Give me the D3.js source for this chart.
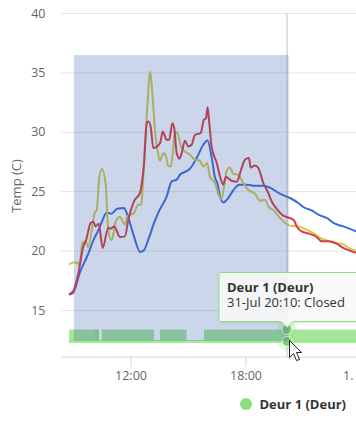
<!DOCTYPE html>
<html>
<head>
<meta charset="utf-8">
<script src="https://cdn.jsdelivr.net/npm/d3@7"></script>
<style>
html, body { margin: 0; padding: 0; background: #fff; overflow: hidden; }
svg { display: block; font-family: "Open Sans", sans-serif; }
</style>
</head>
<body>
<svg id="chart" width="356" height="427"></svg>
<script>
// [hour of day, temp]
const redSeries = [[8.79,16.37],[9.02,16.66],[9.28,18.11],[9.54,20.38],[9.68,20.91],[9.92,22.37],[10.06,22.48],[10.18,22.08],[10.34,22.31],[10.55,20.27],[10.84,21.97],[10.97,21.89],[11.15,22.08],[11.45,21.19],[11.71,21.24],[11.89,22.69],[12.18,24.19],[12.5,24.92],[12.58,25.59],[12.7,27.27],[12.85,30.77],[12.93,30.91],[13.05,30.49],[13.19,28.67],[13.54,29.09],[13.68,30.07],[13.89,29.37],[14.02,29.37],[14.18,30.77],[14.28,30.35],[14.41,28.25],[14.55,27.77],[14.67,28.25],[14.84,29.29],[15.02,28.81],[15.19,28.95],[15.36,29.79],[15.66,29.93],[15.83,31.05],[15.94,31.19],[16.02,32.1],[16.11,30.8],[16.23,28.81],[16.5,27.41],[16.67,26.29],[16.84,25.59],[16.98,26.24],[17.28,25.92],[17.54,25.84],[17.8,26.99],[17.97,27.69],[18.18,27.83],[18.27,27.04],[18.49,27.21],[18.67,26.99],[18.93,25.73],[19.19,24.89],[19.37,24.18],[19.66,23.49],[19.97,22.98],[20.15,22.87],[20.53,22.59],[20.67,22.08],[20.93,21.66],[21.36,21.45],[21.71,21.19],[21.97,20.82],[22.32,20.82],[22.76,20.63],[23.1,20.27],[23.45,20.04],[23.76,19.85]];
const oliveSeries = [[8.79,18.87],[9.02,19.03],[9.23,19.03],[9.33,18.81],[9.49,20.69],[9.66,20.82],[9.78,20.35],[10.01,22.08],[10.13,23.21],[10.24,23.49],[10.36,26.01],[10.5,26.91],[10.71,25.59],[10.79,22.92],[10.88,21.39],[11.02,20.91],[11.23,22.5],[11.45,22.87],[11.71,22.23],[11.83,22.92],[12.18,23.21],[12.39,23.91],[12.56,23.91],[12.62,24.92],[12.7,27.17],[12.88,32.31],[13.02,35.11],[13.16,32.87],[13.28,30.07],[13.45,28.11],[13.54,27.61],[13.71,28.25],[13.85,27.97],[13.97,27.18],[14.1,27.13],[14.2,28.11],[14.32,30.07],[14.44,29.93],[14.67,28.67],[14.84,28.39],[15.1,28.11],[15.36,27.69],[15.59,27.63],[15.83,27.13],[16,27.41],[16.15,26.22],[16.41,25.73],[16.63,24.61],[16.76,24.41],[16.88,25.45],[17.02,26.79],[17.19,27.04],[17.36,26.51],[17.62,26.43],[17.88,25.73],[18.14,25.17],[18.49,24.83],[18.76,24.24],[19.02,24.33],[19.19,23.76],[19.49,23.4],[19.8,22.79],[20.32,22.14],[20.75,22.08],[21.19,21.81],[21.53,21.53],[21.89,21.11],[22.23,20.91],[22.58,20.69],[23.02,20.63],[23.45,20.21],[23.76,20.04]];
const blueSeries = [[8.79,16.34],[8.98,16.43],[9.37,18.25],[9.8,19.79],[10.06,20.91],[10.32,21.75],[10.5,22.45],[10.76,23.24],[11,23.15],[11.31,23.57],[11.66,23.63],[11.8,23.21],[12.18,21.24],[12.5,19.93],[12.7,20.07],[12.96,21.11],[13.23,22.37],[13.45,23.24],[13.89,24.61],[14.15,25.87],[14.41,26.01],[14.58,26.43],[14.84,26.66],[15.1,26.93],[15.45,27.83],[15.8,28.95],[16.02,29.31],[16.24,27.83],[16.41,26.18],[16.53,25.73],[16.67,24.61],[16.84,24.1],[17.1,24.47],[17.36,25.11],[17.67,25.59],[18.06,25.59],[18.49,25.5],[18.93,25.5],[19.28,25.34],[19.8,24.83],[20.32,24.47],[20.75,24.05],[21.01,23.71],[21.45,23.43],[21.8,23.07],[22.23,22.79],[22.66,22.31],[23.1,22.08],[23.76,21.66]];

// door open intervals, start and end hour
const doorOpen = [[8.79,9.66],[9.63,10.36],[10.15,10.36],[10.5,13.23],[13.54,14.92],[15.83,24]];
const doorRange = [8.79, 24];
const doorClosedTemp = 12.4;
const doorOpenTemp = 13.4;
const selection = [9.05, 20.25, 36.5];
const hoverHour = 20.167;

const yTicks = [15, 20, 25, 30, 35, 40];
const xTicks = [12, 18, 24];
const xTickLabels = ["12:00", "18:00", "1. Aug"];
const seriesName = "Deur 1 (Deur)";
const tooltipLine = "31-Jul 20:10: Closed";

const x = d3.scaleLinear().domain([12, 18]).range([130.5, 245.5]);
const y = d3.scaleLinear().domain([40, 15]).range([13.5, 310.5]);
const plotLeft = 61, plotRight = 356, plotBottom = 357;

const svg = d3.select("#chart");

// grid
svg.append("g").selectAll("line").data(yTicks).join("line")
    .attr("x1", plotLeft).attr("x2", plotRight)
    .attr("y1", d => y(d)).attr("y2", d => y(d))
    .attr("stroke", "#e6e6e6");

// y labels
svg.append("g").selectAll("text").data(yTicks).join("text")
    .attr("x", 45.5).attr("y", d => y(d) + 4)
    .attr("text-anchor", "end")
    .attr("font-size", 12.5).attr("fill", "#666")
    .text(d => d);

svg.append("text")
    .attr("transform", "translate(21,186) rotate(-90)")
    .attr("text-anchor", "middle")
    .attr("font-size", 13).attr("fill", "#666")
    .text("Temp (C)");

// x axis
const xAxis = d3.axisBottom(x)
    .tickValues(xTicks)
    .tickSize(10)
    .tickPadding(4)
    .tickFormat((d, i) => xTickLabels[i]);
const axisG = svg.append("g").attr("transform", "translate(0," + plotBottom + ")").call(xAxis);
axisG.select(".domain").remove();
axisG.selectAll("text").attr("font-size", 12.5).attr("fill", "#666").attr("font-family", '"Open Sans", sans-serif');
axisG.selectAll("line").attr("stroke", "#ccd6eb");
axisG.append("line").attr("x1", plotLeft).attr("x2", plotRight).attr("stroke", "#ccd6eb");

// crosshair
svg.append("line")
    .attr("x1", x(hoverHour)).attr("x2", x(hoverHour))
    .attr("y1", y(40)).attr("y2", plotBottom)
    .attr("stroke", "#c4c4c4");

// door state
const doorG = svg.append("g");
doorG.selectAll("rect").data(doorOpen).join("rect")
    .attr("x", d => x(d[0]))
    .attr("width", d => x(d[1]) - x(d[0]))
    .attr("y", y(doorOpenTemp))
    .attr("height", y(doorClosedTemp) - y(doorOpenTemp))
    .attr("rx", 1)
    .attr("fill", "#90e080").attr("fill-opacity", 0.8);
doorG.append("line")
    .attr("x1", x(doorRange[0])).attr("x2", x(doorRange[1]))
    .attr("y1", y(doorClosedTemp)).attr("y2", y(doorClosedTemp))
    .attr("stroke", "#90e880").attr("stroke-opacity", 0.8).attr("stroke-width", 3);

// temp lines
const line = d3.line().x(d => x(d[0])).y(d => y(d[1])).curve(d3.curveMonotoneX);
const lines = [[blueSeries, "#3e6bdc"], [oliveSeries, "#d4c94a"], [redSeries, "#dc3a42"]];
svg.append("g").selectAll("path").data(lines).join("path")
    .attr("d", d => line(d[0]))
    .attr("fill", "none")
    .attr("stroke", d => d[1])
    .attr("stroke-width", 2)
    .attr("stroke-linejoin", "round");

// hover markers
const hoverTemps = [13.4, 12.4];
svg.append("g").selectAll("circle").data(hoverTemps).join("circle")
    .attr("cx", x(hoverHour)).attr("cy", d => y(d)).attr("r", 9.5)
    .attr("fill", "#90ed7d").attr("fill-opacity", 0.25);
svg.append("g").selectAll("circle").data(hoverTemps).join("circle")
    .attr("cx", x(hoverHour)).attr("cy", d => y(d)).attr("r", 5)
    .attr("fill", "#80d070").attr("stroke", "#fff");

// zoom selection on top of everything in the plot
svg.append("rect")
    .attr("x", x(selection[0]))
    .attr("width", x(selection[1]) - x(selection[0]))
    .attr("y", y(selection[2]))
    .attr("height", 341 - y(selection[2]))
    .attr("fill", "rgba(51,92,173,0.25)");

// tooltip
const defs = svg.append("defs");
const shadow = defs.append("filter").attr("id", "tipShadow").attr("x", "-10%").attr("y", "-20%").attr("width", "120%").attr("height", "150%");
shadow.append("feDropShadow").attr("dx", 1).attr("dy", 1).attr("stdDeviation", 1.5).attr("flood-color", "#000").attr("flood-opacity", 0.12);

const tipX = 219, tipY = 272.5, tipH = 49, tipArrow = x(hoverHour);
svg.append("path")
    .attr("d", "M" + (tipX + 2) + "," + tipY + "H362V" + (tipY + tipH) + "H" + (tipArrow + 6) + "L" + tipArrow + "," + (tipY + tipH + 6) + "L" + (tipArrow - 6) + "," + (tipY + tipH) + "H" + (tipX + 2) + "Q" + tipX + "," + (tipY + tipH) + " " + tipX + "," + (tipY + tipH - 2) + "V" + (tipY + 2) + "Q" + tipX + "," + tipY + " " + (tipX + 2) + "," + tipY + "Z")
    .attr("fill", "rgba(250,250,250,0.9)")
    .attr("stroke", "#90e080")
    .attr("filter", "url(#tipShadow)");
svg.append("text").attr("x", 227).attr("y", 292)
    .attr("font-size", 13).attr("font-weight", 700).attr("fill", "#333")
    .text(seriesName);
svg.append("text").attr("x", 227).attr("y", 307)
    .attr("font-size", 13).attr("fill", "#333")
    .text(tooltipLine);

// legend
svg.append("circle").attr("cx", 246).attr("cy", 404).attr("r", 6).attr("fill", "#90dc80");
svg.append("text").attr("x", 259.5).attr("y", 409)
    .attr("font-size", 13).attr("font-weight", 700).attr("fill", "#333")
    .text(seriesName);

// mouse pointer
svg.append("path")
    .attr("transform", "translate(289.5,340.5)")
    .attr("d", "M0,0V17L4,13L7,20L10,19L7,12H12Z")
    .attr("fill", "#fff").attr("stroke", "#222").attr("stroke-width", 1);
</script>
</body>
</html>
